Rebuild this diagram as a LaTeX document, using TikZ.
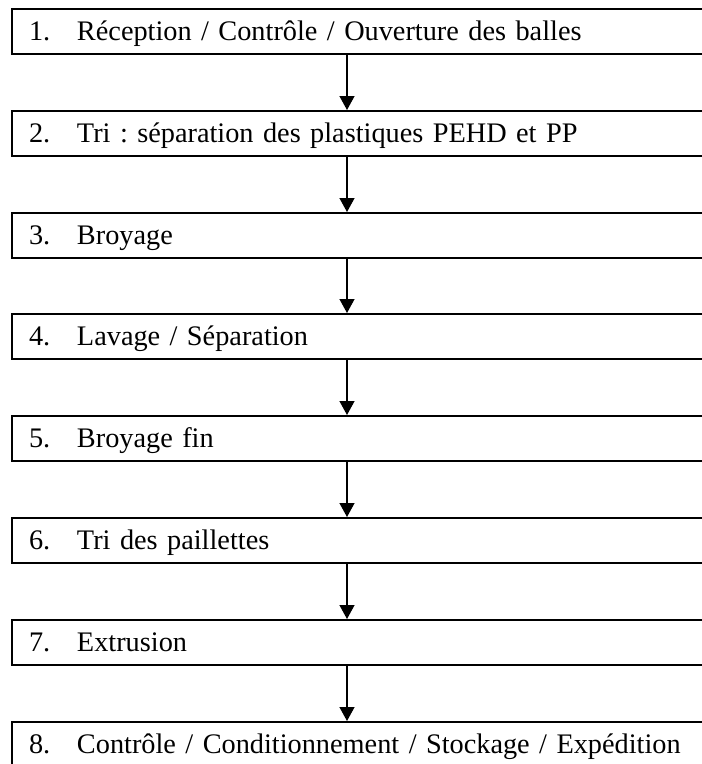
\documentclass[tikz,border=0pt]{standalone}
\usepackage{fontspec}
\setmainfont{Liberation Serif}
\usetikzlibrary{arrows.meta}
\frenchspacing
\tikzset{
  stepbox/.style={draw=black, line width=2pt, anchor=north west,
    text width=700pt, align=left, inner xsep=17pt, inner ysep=0pt,
    text height=31pt, text depth=14pt,
    font=\fontsize{28.3}{32}\selectfont},
  flow/.style={line width=1.3pt, -{Triangle[length=14pt,width=15pt]}}
}
\newcommand{\stepnum}[1]{\makebox[48pt][l]{#1}}
\begin{document}
\begin{tikzpicture}[x=1pt,y=-1pt]
\useasboundingbox (0,0) rectangle (702,764);
\clip (0,0) rectangle (702,764);
\coordinate (ax) at (347,0);
\node[stepbox] (b1) at (11,8) {\stepnum{1.}Réception / Contrôle / Ouverture des balles};
\node[stepbox] (b2) at (11,110) {\stepnum{2.}Tri : séparation des plastiques PEHD et PP};
\node[stepbox] (b3) at (11,212) {\stepnum{3.}Broyage};
\node[stepbox] (b4) at (11,313) {\stepnum{4.}Lavage / Séparation};
\node[stepbox] (b5) at (11,415) {\stepnum{5.}Broyage fin};
\node[stepbox] (b6) at (11,517) {\stepnum{6.}Tri des paillettes};
\node[stepbox] (b7) at (11,619) {\stepnum{7.}Extrusion};
\node[stepbox] (b8) at (11,721) {\stepnum{8.}Contrôle / Conditionnement / Stockage / Expédition};
\foreach \a/\b in {b1/b2,b2/b3,b3/b4,b4/b5,b5/b6,b6/b7,b7/b8}
  \draw[flow] (\a.south -| ax) -- (\b.north -| ax);
\end{tikzpicture}
\end{document}
